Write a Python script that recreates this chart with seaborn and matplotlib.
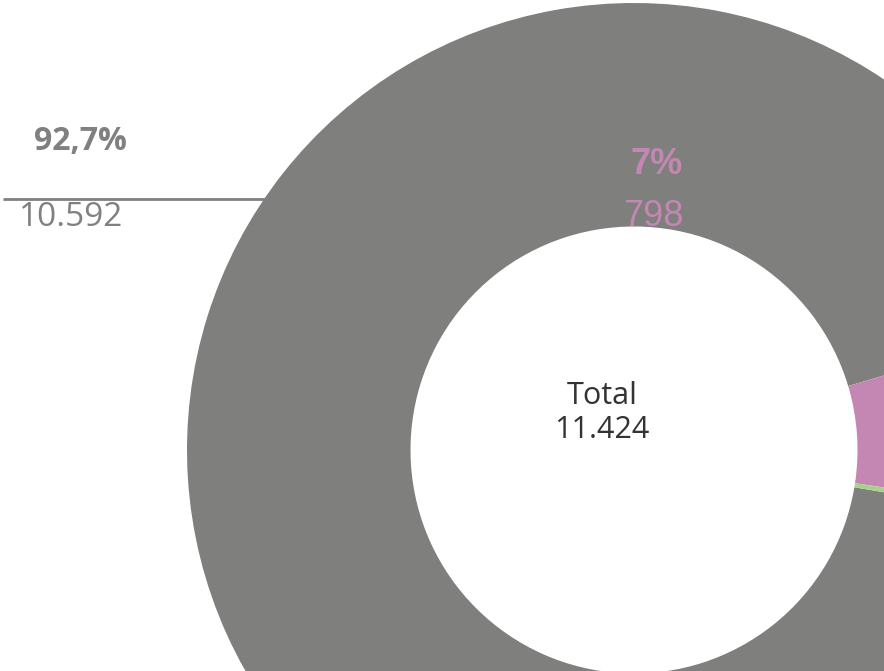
import numpy as np
import seaborn as sns
import matplotlib.pyplot as plt

# slice data
labels = ['Outros', 'Rosa', 'Verde']
values = [10592, 798, 34]
pct_labels = ['92,7%', '7%', '0,3%']
value_labels = ['10.592', '798', '34']
colors = ['#7f807d', '#c486b2', '#a9d18e']
total_label = 'Total\n11.424'

sns.set_theme(style='white')
plt.rcParams['font.family'] = ['Open Sans', 'DejaVu Sans']

fig = plt.figure(figsize=(8.84, 6.71), dpi=100)
ax = fig.add_axes([0, 0, 1, 1])

CX, CY, R = 634, 450, 447  # donut center / radius in pixels

ax.pie(values, colors=colors, startangle=-9.6, counterclock=False,
       radius=1.0, wedgeprops=dict(width=0.5, linewidth=0))

# px -> data helper
def d(px, py):
    return (px - CX) / R, (CY - py) / R

ax.set_xlim(-CX / R, (884 - CX) / R)
ax.set_ylim(-(671 - CY) / R, CY / R)
ax.set_aspect('equal')
ax.axis('off')

# gray slice labels with leader line
x0, y0 = d(3, 199)
x1, y1 = d(266, 199)
ax.plot([x0, x1], [y0, y1], color='#808080', lw=2, solid_capstyle='butt')
ax.text(*d(80, 141), pct_labels[0], ha='center', va='center',
        fontsize=23, fontweight='bold', color='#808080')
ax.text(*d(71, 218), value_labels[0], ha='center', va='center',
        fontsize=24, color='#808080')

# pink slice labels
ax.text(*d(657, 165), pct_labels[1], ha='center', va='center',
        fontsize=26, fontweight='bold', color='#c486b2', family=['Liberation Sans'])
ax.text(*d(653, 217), value_labels[1], ha='center', va='center',
        fontsize=26, color='#c486b2', family=['Liberation Sans'])

# center total
ax.text(*d(602, 413), total_label, ha='center', va='center',
        fontsize=22, color='#333333', linespacing=1.15)

fig.savefig('out.png', dpi=100)
